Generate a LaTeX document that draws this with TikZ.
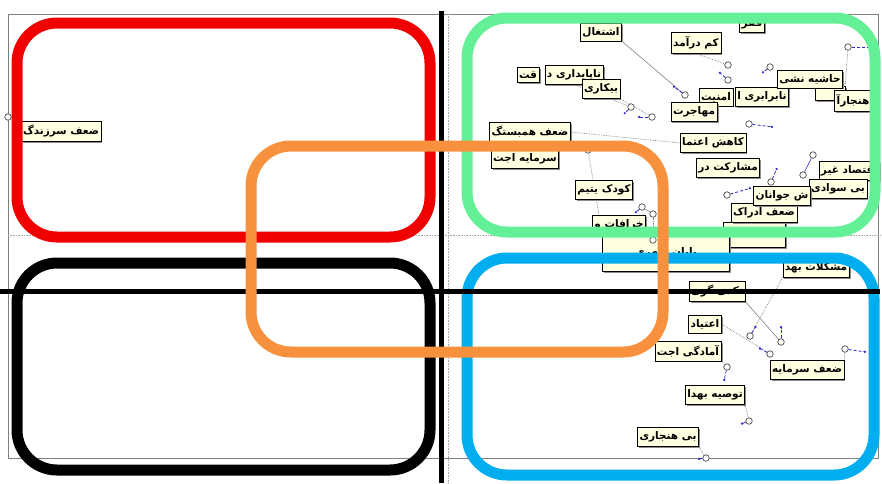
\documentclass[tikz,border=0pt]{standalone}
\usepackage{fontspec}
\newfontfamily\arabicfont[Script=Arabic]{DejaVu Sans}
\TeXXeTstate=1
\usetikzlibrary{shadows,arrows.meta,backgrounds}
\definecolor{redbox}{RGB}{240,0,0}
\definecolor{greenbox}{RGB}{100,240,150}
\definecolor{bluebox}{RGB}{0,174,239}
\definecolor{orangebox}{RGB}{247,145,61}
\definecolor{notefill}{RGB}{255,255,225}
\definecolor{legblue}{RGB}{40,40,200}
\newcommand{\fatext}[1]{\arabicfont\bfseries\beginR #1\endR}

\begin{document}
\begin{tikzpicture}[x=1pt, y=-1pt, font=\fontsize{10.5}{12}\selectfont,
  lbl/.style={draw, line width=0.6pt, fill=notefill, inner xsep=2pt, inner ysep=4pt,
    drop shadow={shadow xshift=1.5pt, shadow yshift=-1.5pt, fill=black!45, opacity=1}},
  knot/.style={circle, draw=gray!60!black, fill=white, inner sep=0pt, minimum size=6.5pt, line width=0.7pt},
  link/.style={gray, line width=0.6pt},
  dlink/.style={gray, densely dotted, line width=0.7pt},
  bleg/.style={legblue, densely dashed, line width=0.8pt, -{Circle[length=2.2pt]}},
  zone/.style={line width=11pt, rounded corners=40pt}]
  \useasboundingbox (0,0) rectangle (882,483);

  % screen frame and grid
  \draw[gray, line width=0.8pt] (8,14) rectangle (878,458);
  \draw[gray!70, densely dotted, line width=0.6pt] (448,14) -- (448,483);
  \draw[gray!70, densely dotted, line width=0.6pt] (8,235) -- (882,235);

  % labels, top right
  \node[lbl] (n1) at (601,32) {\fatext{اشتغال}};
  \node[lbl] (n2) at (696,43) {\fatext{کم درآمد}};
  \node[lbl] (n3) at (752,24) {\fatext{فقر}};
  \node[lbl] (n4a) at (528,75) {\fatext{قت}};
  \node[lbl] (n4) at (574,75) {\fatext{ناپایداری د}};
  \node[lbl] (n5) at (601,89) {\fatext{بیکاری}};
  \node[lbl] (n7a) at (716,97) {\fatext{امنیت}};
  \node[lbl] (n7) at (762,97) {\fatext{نابرابری ا}};
  \node[lbl] (n6) at (694,112) {\fatext{مهاجرت}};
  \node[lbl, minimum width=30pt, minimum height=14pt] (n9b) at (830,93) {};
  \node[lbl] (n8) at (810,79) {\fatext{حاشیه نشی}};
  \node[lbl] (n9) at (853,101) {\fatext{هنجارآ}};
  \node[lbl] (n10) at (530,132) {\fatext{ضعف همبستگ}};
  \node[lbl] (n11) at (525,159) {\fatext{سرمایه اجت}};
  \node[lbl] (n12) at (604,190) {\fatext{کودک یتیم}};
  \node[lbl] (n13) at (619,225) {\fatext{خرافات و}};
  \node[lbl] (n14) at (713,143) {\fatext{کاهش اعتما}};
  \node[lbl] (n15) at (728,168) {\fatext{مشارکت در}};
  \node[lbl] (n17) at (849,171) {\fatext{اقتصاد غیر}};
  \node[lbl] (n18) at (838,189) {\fatext{بی سوادی}};
  \node[lbl, minimum width=62pt, minimum height=25pt] (n20) at (754,235) {};
  \node[lbl] (n19) at (764,213) {\fatext{ضعف ادراک}};
  \node[lbl] (n16) at (782,196) {\fatext{ش جوانان}};

  % labels, bottom right
  \node[lbl, minimum width=127pt, minimum height=37pt] (n21) at (666,253) {\fatext{پایان شهری}};
  \node[lbl] (n22) at (816,268) {\fatext{مشکلات بهد}};
  \node[lbl] (n23) at (717,291) {\fatext{تکدی گری}};
  \node[lbl] (n24) at (705,324) {\fatext{اعتیاد}};
  \node[lbl] (n25) at (688,351) {\fatext{آمادگی اجت}};
  \node[lbl] (n26) at (807,370) {\fatext{ضعف سرمایه}};
  \node[lbl] (n27) at (715,395) {\fatext{توصیه بهدا}};
  \node[lbl] (n28) at (668,437) {\fatext{بی هنجاری}};

  % label, left
  \node[lbl] (n29) at (61,131) {\fatext{ضعف سرزندگ}};

  % knots
  \node[knot] (c1) at (631,107) {};
  \node[knot] (c2) at (652,117) {};
  \node[knot] (c3) at (685,95) {};
  \node[knot] (c4) at (728,65) {};
  \node[knot] (c5) at (728,80) {};
  \node[knot] (c6) at (770,67) {};
  \node[knot] (c7) at (848,47) {};
  \node[knot] (c8) at (749,124) {};
  \node[knot] (c9) at (588,150) {};
  \node[knot] (c10) at (642,207) {};
  \node[knot] (c11) at (653,214) {};
  \node[knot] (c12) at (653,240) {};
  \node[knot] (c13) at (813,155) {};
  \node[knot] (c14) at (803,175) {};
  \node[knot] (c15) at (771,182) {};
  \node[knot] (c16) at (727,195) {};
  \node[knot] (c17) at (750,336) {};
  \node[knot] (c18) at (781,342) {};
  \node[knot] (c19) at (770,354) {};
  \node[knot] (c20) at (845,349) {};
  \node[knot] (c21) at (727,367) {};
  \node[knot] (c22) at (749,421) {};
  \node[knot] (c23) at (706,458) {};
  \node[knot] (c24) at (8,117) {};

  \begin{scope}[on background layer]
    \draw[dlink] (n4.south) -- (c1);
    \draw[dlink] (n5.south east) -- (c2);
    \draw[link] (n1.south east) -- (c3);
    \draw[dlink] (n2.south) -- (c4);
    \draw[dlink] (c7) -- (n9b.north east);
    \draw[dlink] (n10.east) -- (n14.west);
    \draw[dlink] (c9) -- (n21.north west);
    \draw[link] (c10) -- (c11);
    \draw[dlink] (c11) -- (c12);
    \draw[legblue, line width=0.6pt] (c13) -- (c14);
    \draw[dlink] (n22.south west) -- (c17);
    \draw[link] (n23.south east) -- (c18);
    \draw[dlink] (n24.east) -- (c19);
    \draw[dlink] (n26.north east) -- (c20);
    \draw[dlink] (n25.south east) -- (c21);
    \draw[dlink] (n27.south east) -- (c22);
    \draw[dlink] (n28.south east) -- (c23);
    \draw[dlink] (c24) -- (n29.north west);
  \end{scope}

  % short blue legs
  \draw[bleg] (c1) -- ++(-7,7);
  \draw[bleg] (c2) -- ++(-14,0);
  \draw[bleg] (c3) -- ++(-12,-9);
  \draw[bleg] (c5) -- ++(-9,-8);
  \draw[bleg] (c6) -- ++(-8,6);
  \draw[bleg] (c7) -- ++(24,0);
  \draw[bleg] (c8) -- ++(24,3);
  \draw[bleg] (c10) -- ++(-7,6);
  \draw[bleg] (c15) -- ++(6,-14);
  \draw[bleg] (c16) -- ++(24,-7);
  \draw[bleg] (c17) -- ++(6,-10);
  \draw[bleg] (c18) -- ++(0,-16);
  \draw[bleg] (c19) -- ++(-11,-6);
  \draw[bleg] (c20) -- ++(21,3);
  \draw[bleg] (c21) -- ++(-3,14);
  \draw[bleg] (c22) -- ++(-8,3);
  \draw[bleg] (c23) -- ++(-8,1);

  % zones
  \draw[zone, redbox] (17,23) rectangle (430,237);
  \draw[zone, black] (17,263) rectangle (430,470);
  \draw[zone, greenbox] (467,18) rectangle (875,232);
  \draw[zone, bluebox] (467,258) rectangle (874,475);

  % axes
  \draw[black, line width=5pt] (0,291) -- (880,291);
  \draw[black, line width=5pt] (441,11) -- (441,483);

  \draw[zone, orangebox] (251,146) rectangle (663,352);
\end{tikzpicture}
\end{document}
